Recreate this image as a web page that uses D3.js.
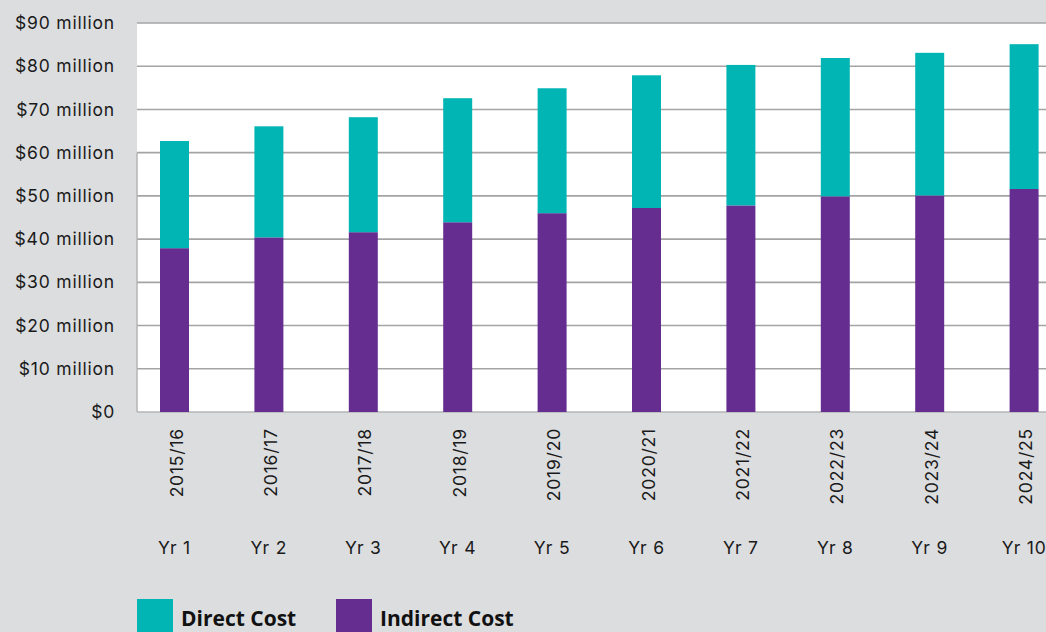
<!DOCTYPE html>
<html>
<head>
<meta charset="utf-8">
<script src="https://cdn.jsdelivr.net/npm/d3@7.9.0/dist/d3.min.js"></script>
<style>
  html, body { margin: 0; padding: 0; background: #dcdddf; }
  svg { display: block; }
  .tick-label { font-family: Inter, Roboto, sans-serif; font-size: 17.5px; letter-spacing: 0.8px; fill: #1a1a1a; }
  .legend-label { font-family: "Open Sans", sans-serif; font-weight: 700; font-size: 21px; fill: #111; }
</style>
</head>
<body>
<svg id="chart" width="1046" height="632"></svg>
<script>
const years = ['2015/16', '2016/17', '2017/18', '2018/19', '2019/20',
               '2020/21', '2021/22', '2022/23', '2023/24', '2024/25'];
const yearNums = ['Yr 1', 'Yr 2', 'Yr 3', 'Yr 4', 'Yr 5',
                  'Yr 6', 'Yr 7', 'Yr 8', 'Yr 9', 'Yr 10'];
// millions of dollars
const indirectCost = [37.9, 40.4, 41.6, 43.9, 46.0, 47.2, 47.8, 49.9, 50.1, 51.6];
const totalCost = [62.7, 66.1, 68.2, 72.6, 74.9, 77.9, 80.3, 81.9, 83.1, 85.1];
const directCost = totalCost.map((t, i) => +(t - indirectCost[i]).toFixed(1));
const yTicks = [0, 10, 20, 30, 40, 50, 60, 70, 80, 90];
const seriesNames = ['Direct Cost', 'Indirect Cost'];
const colors = { direct: '#00b5b4', indirect: '#652d90' };

const svg = d3.select('#chart');
const plot = { left: 137, right: 1046, top: 23, bottom: 412 };

let y = d3.scaleLinear().domain([0, 90]).range([plot.bottom, plot.top]);
let x = d3.scaleBand()
    .domain(years)
    .range([127.3, 1071.3])
    .paddingInner(0.693)
    .paddingOuter(0.3465);

// plot background
svg.append('rect')
    .attr('x', plot.left)
    .attr('y', plot.top)
    .attr('width', plot.right - plot.left)
    .attr('height', plot.bottom - plot.top)
    .attr('fill', '#fff');

// gridlines
svg.append('g')
    .selectAll('line')
    .data(yTicks.filter(d => d > 0))
    .join('line')
    .attr('x1', plot.left)
    .attr('x2', plot.right)
    .attr('y1', d => y(d))
    .attr('y2', d => y(d))
    .attr('stroke', '#a4a4a6')
    .attr('stroke-width', 1.6);

// left edge + baseline
svg.append('line')
    .attr('x1', plot.left).attr('x2', plot.left)
    .attr('y1', y(60)).attr('y2', plot.bottom)
    .attr('stroke', '#b4b4b6').attr('stroke-width', 1.5);
svg.append('line')
    .attr('x1', plot.left).attr('x2', plot.right)
    .attr('y1', plot.bottom).attr('y2', plot.bottom)
    .attr('stroke', '#b4b4b6').attr('stroke-width', 1.5);

// y labels
svg.append('g')
    .selectAll('text')
    .data(yTicks)
    .join('text')
    .attr('class', 'tick-label')
    .attr('x', 115)
    .attr('y', d => y(d))
    .attr('dy', '0.35em')
    .attr('text-anchor', 'end')
    .text(d => d === 0 ? '$0' : `$${d} million`);

// stacked bars
let stackData = years.map((yr, i) => ({ year: yr, indirect: indirectCost[i], direct: directCost[i] }));
let stacked = d3.stack().keys(['indirect', 'direct'])(stackData);

svg.append('g')
    .selectAll('g')
    .data(stacked)
    .join('g')
    .attr('fill', d => colors[d.key])
    .selectAll('rect')
    .data(d => d)
    .join('rect')
    .attr('x', d => x(d.data.year))
    .attr('width', x.bandwidth())
    .attr('y', d => y(d[1]))
    .attr('height', d => y(d[0]) - y(d[1]));

// rotated year labels
svg.append('g')
    .selectAll('text')
    .data(years)
    .join('text')
    .attr('class', 'tick-label')
    .attr('text-anchor', 'end')
    .attr('transform', d => `translate(${x(d) + x.bandwidth() / 2 + 2},428) rotate(-90)`)
    .attr('dy', '0.35em')
    .text(d => d);

// Yr labels
svg.append('g')
    .selectAll('text')
    .data(yearNums)
    .join('text')
    .attr('class', 'tick-label')
    .attr('text-anchor', 'middle')
    .attr('x', (d, i) => x(years[i]) + x.bandwidth() / 2)
    .attr('y', 548)
    .attr('dy', '0.35em')
    .text(d => d);

// legend
const legendItems = [
    { label: seriesNames[0], color: colors.direct, x: 137 },
    { label: seriesNames[1], color: colors.indirect, x: 336 }
];
let legend = svg.append('g');
legendItems.forEach(item => {
    legend.append('rect')
        .attr('x', item.x)
        .attr('y', 599)
        .attr('width', 36)
        .attr('height', 40)
        .attr('fill', item.color);
    legend.append('text')
        .attr('class', 'legend-label')
        .attr('x', item.x + 44)
        .attr('y', 626)
        .text(item.label);
});
</script>
</body>
</html>
